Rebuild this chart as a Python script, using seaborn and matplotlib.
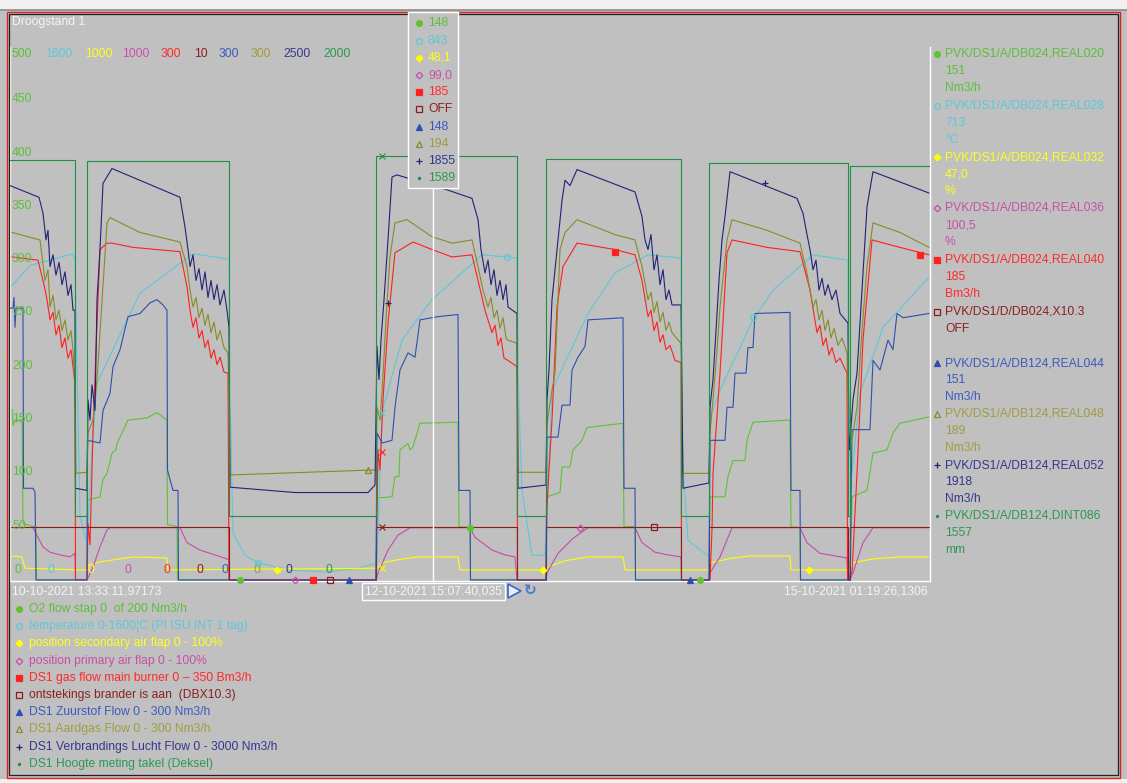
import matplotlib
matplotlib.use("Agg")
import matplotlib.pyplot as plt
from matplotlib.patches import Rectangle, Polygon
from matplotlib.lines import Line2D
import matplotlib.transforms as mtransforms
import seaborn as sns

# ---------------- DATA (time index along the trend, values on the shared 0-500 display axis) -------------
scale_max = ["500", "1600", "1000", "1000", "300", "10", "300", "300", "2500", "2000"]
left_ticks = [450, 400, 350, 300, 250, 200, 150, 100, 50]

descriptions = [
    "O2 flow stap 0  of 200 Nm3/h",
    "temperature 0-1600\u00a6C (PI ISU INT 1 tag)",
    "position secondary air flap 0 - 100%",
    "position primary air flap 0 - 100%",
    "DS1 gas flow main burner 0 \u2013 350 Bm3/h",
    "ontstekings brander is aan  (DBX10.3)",
    "DS1 Zuurstof Flow 0 - 300 Nm3/h",
    "DS1 Aardgas Flow 0 - 300 Nm3/h",
    "DS1 Verbrandings Lucht Flow 0 - 3000 Nm3/h",
    "DS1 Hoogte meting takel (Deksel)",
]
tags = [
    "PVK/DS1/A/DB024,REAL020", "PVK/DS1/A/DB024,REAL028", "PVK/DS1/A/DB024,REAL032",
    "PVK/DS1/A/DB024,REAL036", "PVK/DS1/A/DB024,REAL040", "PVK/DS1/D/DB024,X10.3",
    "PVK/DS1/A/DB124,REAL044", "PVK/DS1/A/DB124,REAL048", "PVK/DS1/A/DB124,REAL052",
    "PVK/DS1/A/DB124,DINT086",
]
current_values = ["151", "713", "47,0", "100,5", "185", "OFF", "151", "189", "1918", "1557"]
units = ["Nm3/h", "\u00b0C", "%", "%", "Bm3/h", "", "Nm3/h", "Nm3/h", "Nm3/h", "mm"]
cursor_values = ["148", "843", "48,1", "99,0", "185", "OFF", "148", "194", "1855", "1589"]

start_label = "10-10-2021 13:33:11,97173"
end_label = "15-10-2021 01:19:26,1306"
cursor_label = "12-10-2021 15:07:40,035"
cursor_t = 433

# O2 flow stap (light green)
o2_t = [12, 13, 15, 22, 23, 33, 36, 36.5, 87, 87.5, 100, 103, 107, 112, 116, 117, 128, 147, 157, 167, 167.5, 177, 177.5,
        376, 377, 392, 395, 399, 400, 408, 410, 413, 420, 458, 459, 470, 470.5,
        546, 547, 560, 562, 570, 573, 582, 587, 623, 624, 635, 635.5,
        709, 710, 725, 728, 733, 745, 747, 753, 790, 791, 800, 800.5,
        850, 852, 867, 873, 887, 893, 900, 929]
o2_v = [160, 145, 150, 150, 53, 50, 50, 0, 0, 75, 78, 94, 100, 119, 122, 128, 150, 152, 157, 150, 52, 50, 0,
        0, 77, 78, 97, 97, 122, 128, 122, 125, 147, 148, 50, 49, 0,
        0, 78, 82, 106, 106, 122, 131, 143, 147, 50, 50, 0,
        0, 78, 78, 97, 112, 112, 131, 148, 150, 50, 49, 0,
        0, 78, 84, 119, 122, 138, 147, 153]

# temperature (cyan)
temp_t = [10, 30, 73, 75, 80, 87, 92, 97, 140, 193, 229, 230, 233, 245, 258, 292, 325, 358, 377, 382, 402, 432, 482, 507,
          517, 518, 522, 532, 545, 552, 588, 615, 648, 681, 683, 688, 709, 710, 720, 753, 773, 813, 848, 849, 852, 860,
          883, 929]
temp_v = [274, 295, 306, 300, 59, 35, 122, 185, 269, 306, 301, 172, 44, 23, 16, 9, 7.5, 11, 16, 157, 225, 263, 305, 303,
          302, 194, 84, 23, 23, 178, 250, 288, 305, 302, 106, 37, 22, 153, 178, 244, 272, 305, 300, 131, 100, 175,
          237, 284]

# position secondary air flap (yellow)
sec_t = [10, 22, 25, 77, 87, 88, 100, 133, 167, 168, 377, 382, 398, 418, 458, 460, 546, 547, 565, 588, 623, 625, 709,
         710, 733, 750, 790, 791, 850, 852, 873, 900, 929]
sec_v = [22.5, 21.6, 11, 9.4, 9.4, 14, 17, 21.6, 20.6, 9.4, 11, 16, 19, 21.6, 21.6, 9.4, 9.4, 12, 18, 21.6, 21.6, 9.4,
         9.4, 16, 20.6, 22.5, 22.5, 9.4, 9.4, 16, 19.7, 21.6, 21.6]

# position primary air flap (magenta)
prim_t = [33, 43, 50, 60, 70, 75, 75.5, 87, 93, 100, 107, 110, 180, 187, 200, 215, 229, 229.5, 376, 378, 388, 398, 410,
          470, 475, 492, 505, 515, 517, 546, 547, 558, 573, 588, 635, 642, 655, 668, 681, 681.5, 709, 710, 720, 732,
          800, 807, 820, 835, 847, 848, 850, 853, 863, 873, 929]
prim_v = [49, 31, 26, 23.5, 21.6, 25, 0, 0, 12, 31, 47, 49, 49, 35, 28, 23.5, 19, 0, 0, 6.6, 28, 42, 49,
          49, 40, 28, 23.5, 21.6, 0, 0, 6.6, 25, 39, 49, 49, 35, 26, 23.5, 21.6, 0, 0, 6.6, 21.6, 49,
          49, 35, 25, 22.5, 20.6, 0, 0, 6.6, 35, 49, 49]

# gas flow main burner (red)
gas_t = [12, 38, 44, 47, 50, 53, 56, 59, 62, 65, 68, 71, 73, 75, 75.5, 87, 88, 90, 93, 96, 100, 107, 112, 133, 180, 187,
         190, 193, 196, 199, 202, 205, 208, 211, 214, 217, 220, 224, 228, 229, 376, 378, 380, 383, 388, 395, 413, 432,
         452, 472, 478, 485, 492, 495, 498, 501, 504, 508, 517, 517.5, 546, 547, 549, 552, 557, 563, 577, 615, 635,
         642, 648, 651, 654, 657, 660, 663, 666, 670, 675, 681, 681.5, 710, 712, 713, 720, 727, 732, 767, 800, 810,
         817, 820, 823, 826, 829, 832, 836, 840, 847, 847.5, 852, 857, 863, 872, 900, 929]
gas_v = [303, 300, 277, 263, 244, 251, 230, 239, 218, 227, 208, 216, 200, 185, 0, 0, 53, 33, 138, 216, 310, 316, 316,
         312, 308, 275, 253, 237, 246, 227, 234, 218, 225, 208, 216, 202, 209, 195, 194, 0, 0, 122, 103, 169, 241,
         307, 317, 310, 303, 305, 281, 253, 232, 239, 220, 227, 208, 206, 200, 0, 0, 68, 103, 150, 256, 294, 316,
         310, 305, 281, 247, 253, 234, 242, 223, 230, 216, 220, 206, 204, 0, 0, 47, 100, 194, 307, 319, 312, 308,
         272, 232, 239, 220, 227, 211, 218, 204, 208, 194, 0, 7, 100, 225, 319, 312, 305]

# ontstekings brander (dark red, on = 1 of 10 -> 50)
ign_t = [10, 229, 376, 517, 546, 681, 709, 848, 850, 930]
ign_v = [50, 0, 50, 0, 50, 0, 50, 0, 50, 50]

# Zuurstof flow (blue)
ox_t = [10, 13, 14, 15, 16, 23, 23.5, 33, 35, 36, 87, 87.5, 100, 103, 110, 113, 120, 128, 140, 150, 157, 163, 167,
        167.5, 173, 178, 178.5, 376, 377, 382, 392, 395, 400, 408, 415, 420, 438, 458, 459, 470, 470.5,
        546, 547, 558, 562, 570, 572, 578, 585, 588, 623, 624, 635, 635.5,
        709, 710, 725, 727, 733, 735, 746, 748, 753, 755, 790, 791, 800, 800.5,
        850, 852, 870, 873, 880, 888, 893, 897, 903, 929]
ox_v = [255, 255, 265, 237, 255, 255, 86, 86, 82.5, 0, 0, 131, 128.5, 159, 175, 200, 216, 247, 250, 260, 263, 258, 253,
        103, 84, 84, 0, 0, 138, 128.5, 131, 162, 197, 213, 209, 244, 247, 249, 84, 84, 0,
        0, 134, 134, 164, 164, 197, 209, 219, 244, 246, 86, 86, 0,
        0, 131, 131, 162, 162, 194, 194, 218, 218, 250, 251, 84, 84, 0,
        0, 141, 141, 206, 197, 225, 216, 250, 246, 250]

# Aardgas flow (olive)
ng_t = [12, 40, 45, 48, 50, 53, 56, 59, 62, 65, 68, 71, 73, 75, 76, 87, 88, 93, 97, 100, 107, 110, 140, 180, 187, 190,
        193, 196, 199, 202, 205, 208, 211, 214, 217, 220, 224, 228, 229, 230, 368, 376, 377, 380, 382, 386, 390, 395,
        407, 432, 452, 472, 478, 483, 488, 491, 494, 497, 500, 503, 506, 508, 517, 518, 546, 547, 552, 555, 560, 565,
        577, 615, 635, 642, 648, 651, 654, 657, 660, 663, 666, 669, 672, 681, 683, 709, 710, 713, 717, 720, 727, 732,
        767, 800, 807, 813, 816, 819, 822, 825, 828, 831, 834, 838, 842, 847, 849, 852, 857, 862, 867, 873, 900, 929]
ng_v = [326, 319, 281, 291, 256, 267, 244, 253, 234, 244, 225, 234, 216, 178, 100, 101, 138, 150, 188, 232, 335, 340,
        326, 317, 294, 272, 256, 265, 246, 255, 239, 249, 232, 242, 225, 234, 218, 213, 178, 98.5, 103, 103, 162, 150,
        175, 244, 303, 335, 338, 322, 316, 319, 294, 272, 256, 265, 246, 253, 236, 246, 227, 225, 222, 101, 101, 147,
        178, 194, 310, 326, 338, 324, 319, 294, 263, 270, 251, 261, 242, 251, 234, 242, 232, 222, 100, 100, 138, 169,
        216, 256, 319, 338, 328, 316, 288, 256, 263, 244, 253, 234, 244, 227, 236, 220, 227, 213, 122, 131, 162, 234,
        294, 335, 326, 312]

# Verbrandings lucht flow (navy)
air_t = [10, 39, 43, 46, 48, 50, 53, 56, 59, 62, 65, 68, 71, 73, 75, 75.5, 87, 88, 90, 92, 95, 97, 100, 103, 112, 180,
         185, 188, 190, 193, 196, 199, 202, 205, 208, 211, 214, 217, 220, 224, 227, 229, 230, 295, 368, 375, 377, 379,
         381, 384, 388, 392, 397, 447, 472, 478, 481, 485, 488, 491, 494, 497, 500, 503, 506, 508, 517, 518, 546, 547,
         549, 552, 555, 558, 562, 565, 570, 577, 635, 642, 645, 648, 651, 654, 657, 660, 663, 666, 669, 672, 681, 683,
         709, 710, 713, 716, 719, 722, 725, 730, 797, 803, 807, 810, 813, 816, 819, 822, 825, 828, 832, 836, 840, 848,
         849, 850, 853, 857, 862, 867, 873, 929]
air_v = [370, 359, 344, 319, 328, 294, 305, 286, 298, 277, 289, 267, 277, 253, 253, 86, 84, 169, 150, 183, 159, 263,
         310, 372, 386, 359, 331, 310, 294, 305, 281, 292, 272, 289, 265, 281, 263, 277, 258, 272, 253, 237, 87, 82,
         82, 89, 219, 188, 225, 263, 319, 378, 380, 366, 358, 338, 310, 288, 300, 277, 291, 267, 281, 263, 277, 256,
         250, 86, 89, 169, 197, 263, 291, 319, 356, 375, 370, 385, 364, 341, 319, 310, 324, 291, 305, 277, 291, 263,
         272, 258, 258, 86, 91, 162, 188, 234, 281, 319, 341, 383, 358, 344, 324, 310, 291, 300, 272, 283, 267, 277,
         263, 272, 250, 241, 122, 131, 169, 194, 272, 350, 383, 363]

# Hoogte meting takel (dark green, step)
lift_t = [10, 75, 87, 229, 376, 517, 546, 681, 709, 848, 850, 930]
lift_v = [394, 60, 393, 60, 398, 60, 395, 60, 391, 60, 388, 388]

# occasional trend markers (time index, value)
o2_mk_t, o2_mk_v = [240, 470, 700], [0, 49, 0]
temp_mk_t, temp_mk_v = [258, 507, 753], [16, 303, 247]
sec_mk_t, sec_mk_v = [277, 543, 809], [9.4, 9.4, 9.4]
prim_mk_t, prim_mk_v = [295, 580], [0, 49]
gas_mk_t, gas_mk_v = [313, 615, 920], [0, 308, 305]
ign_mk_t, ign_mk_v = [330, 654], [0, 50]
ox_mk_t, ox_mk_v = [349, 690], [0, 0]
ng_mk_t, ng_mk_v = [368], [103]
air_mk_t, air_mk_v = [388, 765], [260, 372]
cross_t = [382, 382, 382, 382, 382]
cross_v = [398, 50, 120, 157, 11]

# ---------------- STYLE ----------------
line_colors = ["#5EC232", "#5CC8D8", "#FFFF00", "#C84BA8", "#FF2020", "#8B1C1C", "#2E4FB0", "#8A8A28", "#222277",
               "#1F8F45"]
text_colors = ["#5CBF3A", "#5CC8D8", "#FFFF1E", "#C850A8", "#FF2A2A", "#8B2020", "#3A5BBE", "#9E9E40", "#363690",
               "#2A9A50"]
mk_styles = [("o", True), ("o", False), ("D", True), ("D", False), ("s", True), ("s", False), ("^", True),
             ("^", False), ("+", True), (".", True)]
mk_size = {"o": 4.2, "D": 3.4, "s": 4.0, "^": 4.2, "+": 5.0, ".": 3.0}

W, H = 1127, 783
sns.set_theme(style="white")
plt.rcParams['font.family'] = ['Liberation Sans', 'DejaVu Sans']
FS = 8.7
LW = 0.8
BG = "#C0C0C0"
LIGHT = "#F4F4F4"

fig = plt.figure(figsize=(W / 100, H / 100), dpi=100, facecolor=BG)


def fx(x):
    return x / W


def fy(y):
    return 1 - y / H


def marker_kw(i):
    m, filled = mk_styles[i]
    return dict(marker=m, ms=mk_size[m], mfc=line_colors[i] if filled else "none", mec=line_colors[i], mew=0.9)


# outer frame
fig.add_artist(Rectangle((0, fy(10)), 1, 10 / H, transform=fig.transFigure, facecolor="#F0F0F0", edgecolor="none",
                         zorder=0))
fig.add_artist(Line2D([0, 1], [fy(9.5), fy(9.5)], transform=fig.transFigure, color="#8C8C8C", lw=1.2, zorder=0))
fig.add_artist(Rectangle((0, 0), 1, (H - 779) / H, transform=fig.transFigure, facecolor="#F0F0F0",
                         edgecolor="none", zorder=0))
fig.add_artist(Rectangle((fx(6.5), fy(777.5)), (1120 - 6.5) / W, (777.5 - 11.5) / H, transform=fig.transFigure,
                         fill=False, edgecolor="#E02020", lw=1.0, zorder=0.5))
fig.add_artist(Rectangle((fx(8.5), fy(775)), (1118 - 8.5) / W, (775 - 14) / H, transform=fig.transFigure,
                         fill=False, edgecolor="#202020", lw=0.9, zorder=0.5))

# plot area
ax = fig.add_axes([fx(10), fy(581), 920 / W, 534 / H])
ax.set_facecolor("none")
ax.set_xlim(10, 930)
ax.set_ylim(-1, 500)
ax.set_xticks([])
ax.set_yticks([])
for s in ["left", "right", "bottom"]:
    ax.spines[s].set_color("white")
    ax.spines[s].set_linewidth(1.0)
ax.spines["top"].set_visible(False)

series = [
    (o2_t, o2_v, None), (temp_t, temp_v, None), (sec_t, sec_v, None), (prim_t, prim_v, None),
    (gas_t, gas_v, None), (ign_t, ign_v, "steps-post"), (ox_t, ox_v, None), (ng_t, ng_v, None),
    (air_t, air_v, None), (lift_t, lift_v, "steps-post"),
]
for i, (t, v, ds) in enumerate(series):
    kw = dict(drawstyle=ds) if ds else {}
    sns.lineplot(x=t, y=v, ax=ax, color=line_colors[i], lw=LW, estimator=None, sort=False, legend=False,
                 zorder=2 + i * 0.1, **kw)

markers = [(o2_mk_t, o2_mk_v), (temp_mk_t, temp_mk_v), (sec_mk_t, sec_mk_v), (prim_mk_t, prim_mk_v),
           (gas_mk_t, gas_mk_v), (ign_mk_t, ign_mk_v), (ox_mk_t, ox_mk_v), (ng_mk_t, ng_mk_v),
           (air_mk_t, air_mk_v)]
for i, (t, v) in enumerate(markers):
    ax.plot(t, v, ls="none", zorder=4, clip_on=False, **marker_kw(i))
cross_cols = [line_colors[9], line_colors[5], line_colors[4], line_colors[1], line_colors[2]]
for t, v, c in zip(cross_t, cross_v, cross_cols):
    ax.plot([t], [v], ls="none", marker="x", ms=4.5, mec=c, mew=0.8, zorder=4)

# axis labels inside plot
for val in left_ticks:
    ax.text(12, val + 1, str(val), color=text_colors[0], fontsize=FS, va="center", ha="left", zorder=5)
top_x = [12, 45, 85, 122, 161, 194, 219, 251, 283, 323]
for x, lab, c in zip(top_x, scale_max, text_colors):
    fig.text(fx(x), fy(54), lab, color=c, fontsize=FS, va="center", ha="left")
    ax.text(x + 2, 9.5, "0", color=c, fontsize=FS, va="center", ha="left", zorder=5)

# title and time labels
fig.text(fx(12), fy(22), "Droogstand 1", color=LIGHT, fontsize=FS, va="center", ha="left")
fig.text(fx(12), fy(591), start_label, color=LIGHT, fontsize=FS, va="center", ha="left")
fig.text(fx(928), fy(591), end_label, color=LIGHT, fontsize=FS, va="center", ha="right")

# cursor
blend = mtransforms.blended_transform_factory(ax.transData, fig.transFigure)
fig.add_artist(Line2D([cursor_t, cursor_t], [fy(188), fy(583)], transform=blend, color="white", lw=1.0, zorder=3))
fig.add_artist(Rectangle((fx(407.5), fy(188)), 50 / W, 176 / H, transform=fig.transFigure, facecolor=BG,
                         edgecolor="white", lw=1.0, zorder=3))
tip_y = [23, 41, 58, 75, 92, 109, 127, 144, 161, 178]
for i, (yy, val) in enumerate(zip(tip_y, cursor_values)):
    fig.add_artist(Line2D([fx(419)], [fy(yy)], transform=fig.transFigure, ls="none", zorder=4, **marker_kw(i)))
    fig.text(fx(428), fy(yy), val, color=text_colors[i], fontsize=FS, va="center", ha="left", zorder=4)

fig.add_artist(Rectangle((fx(361.5), fy(600)), 143 / W, 17 / H, transform=fig.transFigure, facecolor=BG,
                         edgecolor="white", lw=1.0, zorder=3))
fig.text(fx(365), fy(591.5), cursor_label, color=LIGHT, fontsize=FS, va="center", ha="left", zorder=4)
fig.add_artist(Polygon([(fx(508), fy(584)), (fx(508), fy(598)), (fx(521), fy(591))], closed=True,
                       transform=fig.transFigure, facecolor="#E8EEFA", edgecolor="#3A66C8", lw=1.2, zorder=4))
fig.text(fx(530), fy(591), "\u21bb", color="#4A78D0", fontsize=11, va="center", ha="center",
         family="DejaVu Sans", fontweight="bold", zorder=4)

# right legend
entry_y = [54, 106, 157, 208, 260, 312, 363, 414, 465, 516]
for i, yy in enumerate(entry_y):
    fig.add_artist(Line2D([fx(937)], [fy(yy)], transform=fig.transFigure, ls="none", **marker_kw(i)))
    lines = [tags[i], current_values[i]] + ([units[i]] if units[i] else [])
    for k, txt in enumerate(lines):
        fig.text(fx(945), fy(yy + 17.2 * k), txt, color=text_colors[i], fontsize=FS, va="center", ha="left")

# bottom legend
for i, desc in enumerate(descriptions):
    yy = 609 + 17.2 * i
    fig.add_artist(Line2D([fx(19)], [fy(yy)], transform=fig.transFigure, ls="none", **marker_kw(i)))
    fig.text(fx(29), fy(yy), desc, color=text_colors[i], fontsize=FS, va="center", ha="left")

fig.savefig("out.png", dpi=100, facecolor=fig.get_facecolor())
